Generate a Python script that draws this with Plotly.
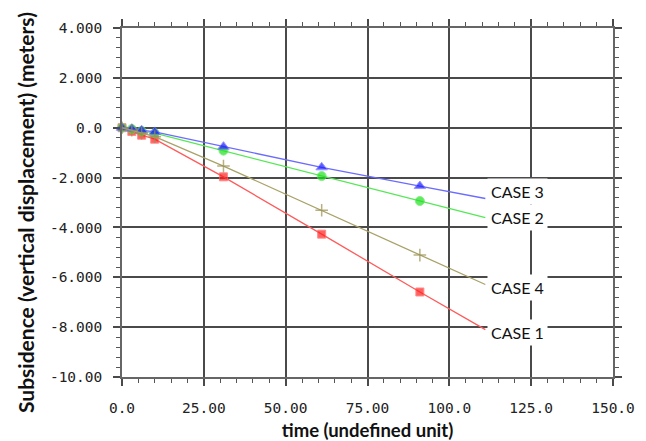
import plotly.graph_objects as go

# time points (undefined unit); markers on all but the last point
time = [0, 3, 6, 10, 31, 61, 91, 111]

case1 = [0.0, -0.15, -0.30, -0.46, -1.97, -4.27, -6.59, -8.10]
case2 = [0.0, -0.05, -0.13, -0.22, -0.92, -1.94, -2.94, -3.61]
case3 = [0.0, -0.04, -0.10, -0.17, -0.76, -1.59, -2.34, -2.84]
case4 = [0.0, -0.10, -0.22, -0.36, -1.54, -3.31, -5.11, -6.29]

case_names = ["CASE 1", "CASE 2", "CASE 3", "CASE 4"]

x_tickvals = [0, 25, 50, 75, 100, 125, 150]
x_ticktext = ["0.0", "25.00", "50.00", "75.00", "100.0", "125.0", "150.0"]
y_tickvals = [4, 2, 0, -2, -4, -6, -8, -10]
y_ticktext = ["4.000", "2.000", "0.0", "-2.000", "-4.000", "-6.000", "-8.000", "-10.00"]

series = [
    (case1, "CASE 1", "#ff5a5a", "#ff1f1f", "square", 8),
    (case2, "CASE 2", "#55e855", "#1fe01f", "circle", 9),
    (case3, "CASE 3", "#6b6bff", "#1a1aff", "triangle-up", 10),
    (case4, "CASE 4", "#a8a268", "#9a9050", "cross-thin", 9),
]

fig = go.Figure()
for ys, name, lcol, mcol, sym, msz in series:
    sizes = [msz] * (len(time) - 1) + [0]
    marker = dict(symbol=sym, size=sizes, color=mcol)
    if sym == "cross-thin":
        marker["line"] = dict(width=1.5, color=mcol)
    fig.add_trace(go.Scatter(
        x=time, y=ys, mode="lines+markers", name=name,
        line=dict(color=lcol, width=1.3), marker=marker,
        showlegend=False, cliponaxis=False,
    ))

# end-of-line labels
ends = {"CASE 1": case1, "CASE 2": case2, "CASE 3": case3, "CASE 4": case4}
label_offsets = {"CASE 1": -0.1, "CASE 2": 0.0, "CASE 3": 0.3, "CASE 4": -0.1}
for name in case_names:
    ys = ends[name]
    fig.add_annotation(
        x=time[-1] + 0.6, y=ys[-1] + label_offsets[name], text=name,
        xanchor="left", yanchor="middle", showarrow=False,
        font=dict(family="Lato, Open Sans, sans-serif", size=16, color="#111"),
        bgcolor="white", borderpad=3,
    )

# y-axis title as a rotated annotation (positioned like the reference)
fig.add_annotation(
    xref="paper", yref="paper", x=0, y=0.47, xshift=-96,
    text="<b>Subsidence (vertical displacement) (meters)</b>", textangle=-90,
    showarrow=False, xanchor="center", yanchor="middle",
    font=dict(family="Lato, Open Sans, sans-serif", size=21, color="#111"),
)

tickfont = dict(family="DejaVu Sans Mono, monospace", size=14.5, color="#222")
axis_common = dict(
    showgrid=True, gridcolor="#4a4a4a", gridwidth=1.6,
    showline=True, linecolor="#666", linewidth=1.6, mirror="allticks",
    ticks="outside", ticklen=7, tickcolor="#4a4a4a", tickwidth=1.5,
    tickfont=tickfont, zeroline=False, tickmode="array", automargin=False,
)

fig.update_xaxes(
    range=[0, 150], tickvals=x_tickvals, ticktext=x_ticktext,
    minor=dict(dtick=5, tick0=0, ticks="outside", ticklen=4, tickcolor="#555", tickwidth=1.2, showgrid=False),
    title=dict(text="<b>time (undefined unit)</b>", font=dict(family="Lato, Open Sans, sans-serif", size=18.5, color="#111"), standoff=12),
    ticklabelstandoff=10,
    **axis_common,
)
fig.update_yaxes(
    range=[-10, 4], tickvals=y_tickvals, ticktext=y_ticktext,
    minor=dict(dtick=0.4, tick0=0, ticks="outside", ticklen=4, tickcolor="#555", tickwidth=1.2, showgrid=False),
    ticklabelstandoff=8,
    **axis_common,
)

# the page body has an 8px default margin, so the figure is 8px smaller
fig.update_layout(
    width=638, height=433,
    margin=dict(l=114, r=33, t=20, b=64),
    plot_bgcolor="white", paper_bgcolor="white",
)

fig.write_html("out.html")
